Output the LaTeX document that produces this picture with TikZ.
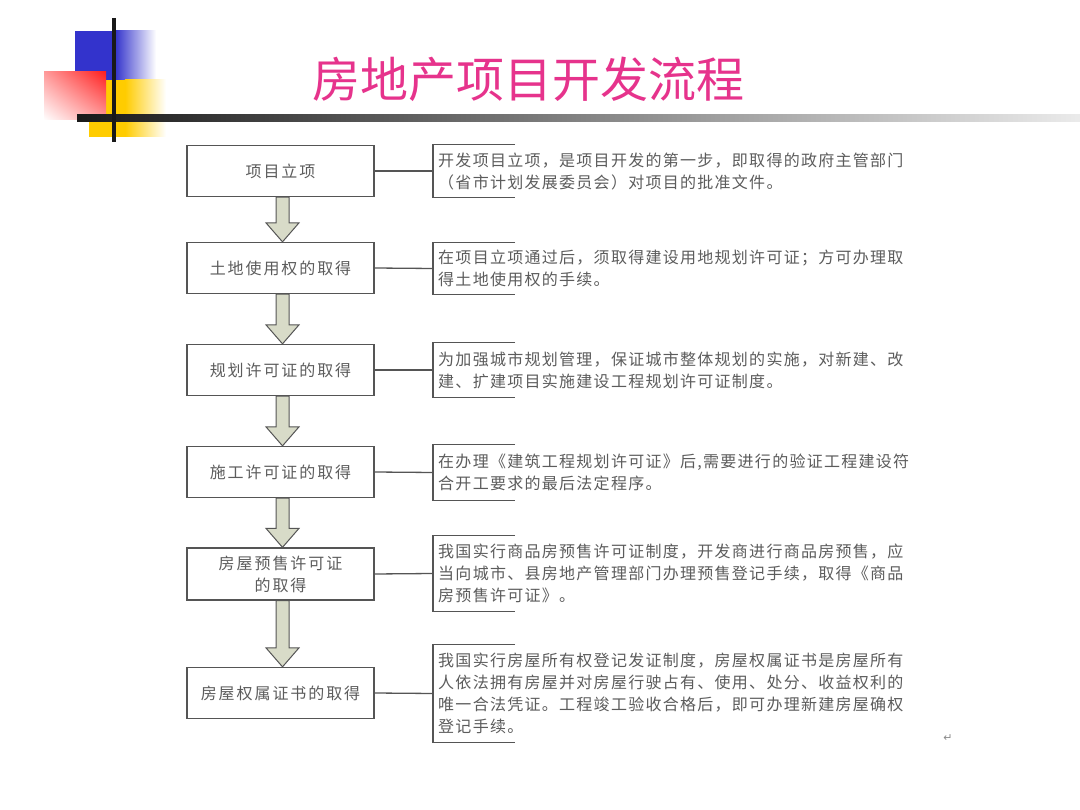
\documentclass[tikz,border=0pt]{standalone}
\usepackage{fontspec}
\usetikzlibrary{calc,shadings}
\newfontfamily\cjk{Noto Sans CJK SC}
\newfontfamily\cjkls[LetterSpace=8]{Noto Sans CJK SC}
\newfontfamily\cjkbox[LetterSpace=12]{Noto Sans CJK SC}
\newfontfamily\djv{DejaVu Sans}
\definecolor{titlepink}{HTML}{E6338C}
\definecolor{textgray}{HTML}{5C5C5C}
\definecolor{linegray}{HTML}{555555}
\definecolor{arrowfill}{HTML}{D8DBC8}
\definecolor{blueA}{HTML}{3333CC}
\definecolor{yelA}{HTML}{FFCC00}
\definecolor{redA}{HTML}{FF2020}
\newcommand\flowarrow[2]{%
  \draw[barrow] let \p1=(#1.south), \p2=(#2.north) in
    (\x1+2pt-6.5pt,\y1) -- (\x1+2pt-6.5pt,\y2+19pt) -- (\x1+2pt-16.5pt,\y2+19pt)
    -- (\x1+2pt,\y2) -- (\x1+2pt+16.5pt,\y2+19pt) -- (\x1+2pt+6.5pt,\y2+19pt)
    -- (\x1+2pt+6.5pt,\y1) -- cycle;}
\newcommand\bracketof[1]{%
  \draw[brk] ($(#1.north west)+(82,0)$) -- (#1.north west) -- (#1.south west) -- ($(#1.south west)+(82,0)$);}
\begin{document}
\begin{tikzpicture}[x=1pt,y=-1pt,
  stepbox/.style={draw=linegray, line width=1.3pt, minimum width=187pt, minimum height=51pt,
    inner sep=0pt, font=\cjkbox\fontsize{16}{22}\selectfont, text=textgray, align=center},
  desc/.style={anchor=west, inner xsep=5pt, inner ysep=0pt, align=left,
    font=\cjkls\fontsize{16}{22}\selectfont, text=textgray},
  brk/.style={draw=linegray, line width=1.3pt},
  conn/.style={draw=linegray, line width=1.3pt},
  barrow/.style={draw=linegray, line width=1pt, fill=arrowfill, line join=miter}]
\useasboundingbox (0,0) rectangle (1080,810);
\fill[white] (0,0) rectangle (1080,810);
% decoration
\fill[blueA] (75,31) rectangle (116,80);
\shade[left color=blueA, right color=white] (115,31) rectangle (156,80);
\fill[yelA] (89,80) rectangle (126,137);
\shade[left color=yelA, right color=white] (125,80) rectangle (166,137);
\shade[upper left=redA!45!white, upper right=redA, lower left=white, lower right=redA!45!white] (44,72) rectangle (106,120);
\shade[left color=black!90, right color=black!8] (77,115) rectangle (1080,121.5);
\draw[line width=3.5pt, color=black!90] (114,18) -- (114,142);
% title
\node[font=\cjk\fontsize{48}{52}\selectfont, text=titlepink] (title) at (528,79) {房地产项目开发流程};
% step boxes
\node[stepbox] (b1) at (280.5,171) {项目立项};
\node[stepbox] (b2) at (280.5,268) {土地使用权的取得};
\node[stepbox] (b3) at (280.5,370) {规划许可证的取得};
\node[stepbox] (b4) at (280.5,472) {施工许可证的取得};
\node[stepbox, minimum height=52pt] (b5) at (280.5,574) {房屋预售许可证\\的取得};
\node[stepbox] (b6) at (280.5,693) {房屋权属证书的取得};
% descriptions
\node[desc, minimum height=52pt] (d1) at (433,171) {开发项目立项，是项目开发的第一步，即取得的政府主管部门\\（省市计划发展委员会）对项目的批准文件。};
\node[desc, minimum height=51pt] (d2) at (433,268.5) {在项目立项通过后，须取得建设用地规划许可证；方可办理取\\得土地使用权的手续。};
\node[desc, minimum height=54pt] (d3) at (433,370) {为加强城市规划管理，保证城市整体规划的实施，对新建、改\\建、扩建项目实施建设工程规划许可证制度。};
\node[desc, minimum height=55pt] (d4) at (433,472.5) {在办理《建筑工程规划许可证》后,需要进行的验证工程建设符\\合开工要求的最后法定程序。};
\node[desc, minimum height=75pt] (d5) at (433,573.5) {我国实行商品房预售许可证制度，开发商进行商品房预售，应\\当向城市、县房地产管理部门办理预售登记手续，取得《商品\\房预售许可证》。};
\node[desc, minimum height=97pt] (d6) at (433,693.5) {我国实行房屋所有权登记发证制度，房屋权属证书是房屋所有\\人依法拥有房屋并对房屋行驶占有、使用、处分、收益权利的\\唯一合法凭证。工程竣工验收合格后，即可办理新建房屋确权\\登记手续。};
\foreach \d in {d1,d2,d3,d4,d5,d6} {\bracketof{\d}}
\foreach \b/\d in {b1/d1,b2/d2,b3/d3,b4/d4,b5/d5,b6/d6} {\draw[conn] (\b.east) -- (\d.west);}
% arrows
\flowarrow{b1}{b2}
\flowarrow{b2}{b3}
\flowarrow{b3}{b4}
\flowarrow{b4}{b5}
\flowarrow{b5}{b6}
\node[font=\djv\fontsize{11}{11}\selectfont, text=black!45] (ret) at (948,738) {↵};
\end{tikzpicture}
\end{document}
